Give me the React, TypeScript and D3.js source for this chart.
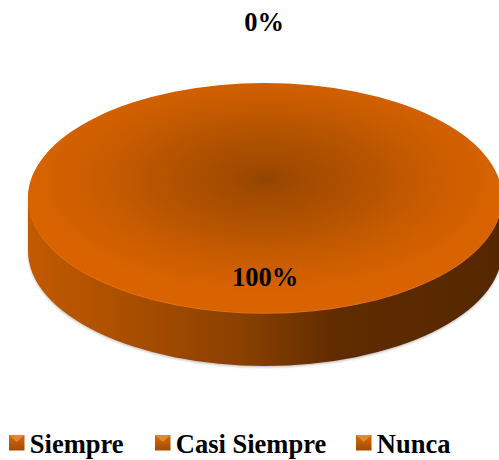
import React from "react";
import * as d3 from "d3";

const categories = ["Siempre", "Casi Siempre", "Nunca"];
const values = [100, 0, 0];
const legendX = [9, 155, 356];

const W = 499;
const H = 460;
const cx = 265;
const cy = 198;
const rx = 237;
const ry = 115;
const depth = 53;
const fontFamily = "'Liberation Serif','Times New Roman',serif";
const fontSize = 26.5;

const pie = d3.pie<number>().sort(null).startAngle(0).endAngle(2 * Math.PI);
const arcs = pie(values);
const arc = d3.arc<d3.PieArcDatum<number>>().innerRadius(0).outerRadius(rx);
const total = d3.sum(values);
const fmt = d3.format(".0%");
const yScale = ry / rx;

const rimPath = `M${cx - rx},${cy}L${cx - rx},${cy + depth}A${rx},${ry} 0 0 0 ${cx + rx},${cy + depth}L${cx + rx},${cy}Z`;

function labelFor(a: d3.PieArcDatum<number>) {
  const mid = (a.startAngle + a.endAngle) / 2;
  const inside = a.value > 0;
  const r = inside ? 0.69 : 1.53;
  return {
    x: inside ? cx : cx - 1,
    y: cy - Math.cos(mid) * ry * r + 9,
    text: fmt(a.value / total),
  };
}

const labels = d3
  .groups(arcs.map(labelFor), (l) => l.text)
  .map(([, g]) => g[0]);

export default function App() {
  return (
    <svg
      width={W}
      height={H}
      viewBox={`0 0 ${W} ${H}`}
      style={{ position: "fixed", left: 0, top: 0, background: "#fff" }}
    >
      <defs>
        <radialGradient
          id="top"
          gradientUnits="userSpaceOnUse"
          cx={0}
          cy={0}
          r={1}
          gradientTransform={`translate(1 -38) scale(${rx} ${rx})`}
        >
          <stop offset="0" stopColor="#944500" />
          <stop offset="0.15" stopColor="#a34b00" />
          <stop offset="0.4" stopColor="#b25200" />
          <stop offset="0.7" stopColor="#c95c00" />
          <stop offset="1" stopColor="#d96300" />
        </radialGradient>
        <linearGradient id="side" gradientUnits="userSpaceOnUse" x1={cx - rx} x2={cx + rx} y1={0} y2={0}>
          <stop offset="0" stopColor="#c25a00" />
          <stop offset="0.22" stopColor="#a94e00" />
          <stop offset="0.45" stopColor="#8a4000" />
          <stop offset="0.65" stopColor="#602c00" />
          <stop offset="1" stopColor="#552700" />
        </linearGradient>
        <linearGradient id="iconBottom" x1="0" x2="0" y1="0" y2="1">
          <stop offset="0" stopColor="#d86a10" />
          <stop offset="1" stopColor="#a04a00" />
        </linearGradient>
        <filter id="soft" x="-5%" y="-5%" width="110%" height="110%">
          <feGaussianBlur stdDeviation="1.2" />
        </filter>
      </defs>

      <path d={rimPath} fill="#999" opacity={0.55} filter="url(#soft)" transform="translate(0 1.5)" />
      <path d={rimPath} fill="url(#side)" />
      <ellipse cx={cx} cy={cy + 0.8} rx={rx} ry={ry} fill="#e8761a" />
      {arcs.map((a, i) =>
        a.value > 0 ? (
          <path
            key={i}
            d={arc(a) ?? ""}
            fill="url(#top)"
            transform={`translate(${cx} ${cy}) scale(1 ${yScale})`}
          />
        ) : null
      )}

      {labels.map((l) => (
        <text
          key={l.text}
          x={l.x}
          y={l.y}
          textAnchor="middle"
          fontFamily={fontFamily}
          fontWeight="bold"
          fontSize={fontSize}
          fill="#000"
        >
          {l.text}
        </text>
      ))}

      {categories.map((c, i) => {
        const x = legendX[i];
        const s = 15.5;
        const y = 435;
        return (
          <g key={c}>
            <rect x={x} y={y} width={s} height={s} fill="url(#iconBottom)" />
            <path d={`M${x},${y}L${x + s},${y}L${x + s / 2},${y + s * 0.45}Z`} fill="#e8862e" />
            <text
              x={x + 20.8}
              y={453}
              fontFamily={fontFamily}
              fontWeight="bold"
              fontSize={fontSize}
              fill="#000"
            >
              {c}
            </text>
          </g>
        );
      })}
    </svg>
  );
}
